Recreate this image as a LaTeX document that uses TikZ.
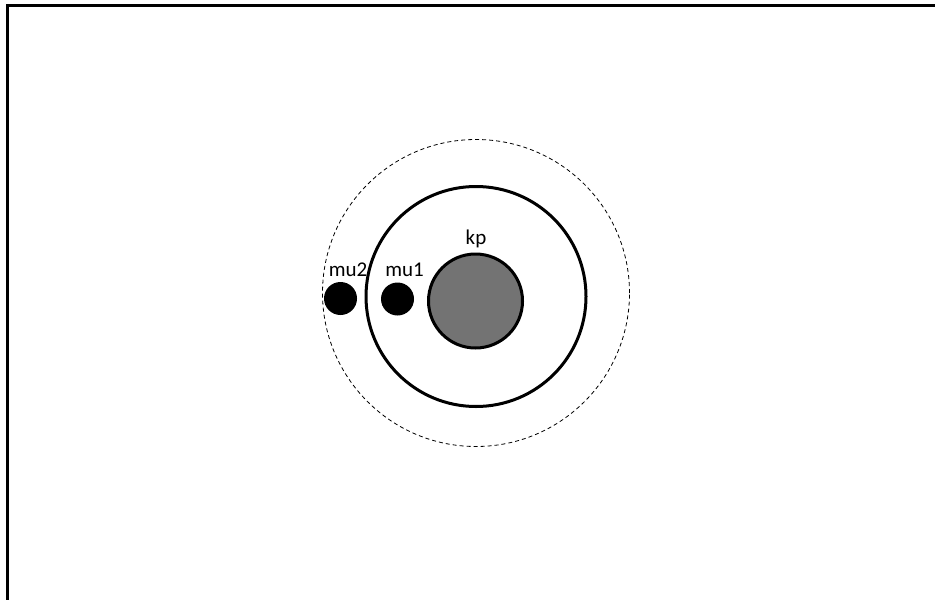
\documentclass[tikz,border=0pt]{standalone}
\usepackage{fontspec}
\setmainfont{Carlito}
\usetikzlibrary{positioning}

\begin{document}
\begin{tikzpicture}[
    x=0.5pt, y=-0.5pt,
    font=\fontsize{10.5}{12}\selectfont,
    ring/.style={circle, draw, inner sep=0pt},
    ball/.style={circle, fill=black, inner sep=0pt, minimum size=16.5pt},
    lbl/.style={inner sep=0pt}
  ]
  \useasboundingbox (0,0) rectangle (935,599);

  % frame (only top and left edges show)
  \draw[line width=1.5pt] (7,610) -- (7,6) -- (945,6);

  % shells
  \node[ring, dashed, line width=0.4pt, dash pattern=on 2pt off 1.5pt,
        minimum size=153.5pt] (outer) at (476,293) {};
  \node[ring, line width=1.5pt, minimum size=110pt] (inner) at (476,296.5) {};

  % core
  \node[ring, line width=1.5pt, fill=black!55, minimum size=47pt] (kp) at (475.5,301) {};

  % particles
  \node[ball] (mu1) at (397.5,299) {};
  \node[ball] (mu2) at (340.5,298.5) {};

  % labels
  \node[lbl] (kplbl) at (476,239) {kp};
  \node[lbl] (mu1lbl) at (404.5,270) {mu1};
  \node[lbl] (mu2lbl) at (348,270) {mu2};
\end{tikzpicture}
\end{document}
